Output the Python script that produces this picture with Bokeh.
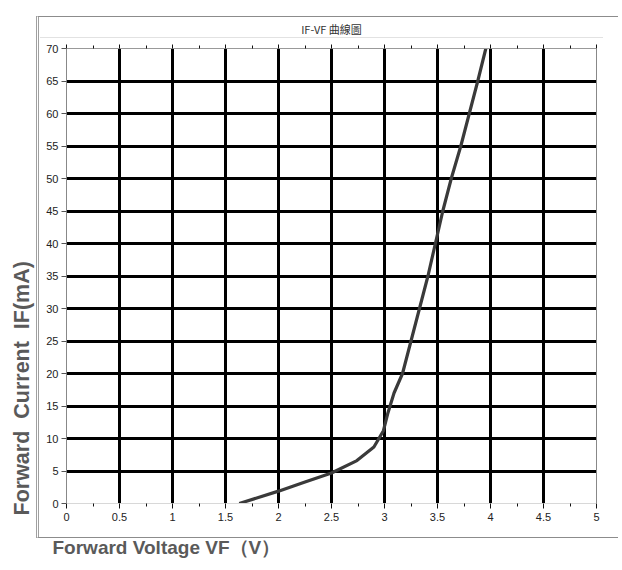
from bokeh.plotting import figure
from bokeh.models import (Range1d, FixedTicker, LinearAxis, Title, InlineStyleSheet)
from bokeh.embed import file_html
from bokeh.resources import INLINE

# ---- data ----
vf = [1.63, 2.0, 2.25, 2.5, 2.74, 2.9, 2.99, 3.03, 3.09, 3.17, 3.25, 3.33,
      3.41, 3.48, 3.55, 3.63, 3.72, 3.80, 3.88, 3.956]
if_ma = [0, 1.9, 3.3, 4.7, 6.6, 8.7, 11.2, 13.8, 17, 20, 25, 30,
         35, 40, 45, 50, 55, 60, 65, 70]

x_ticks = [0, 0.5, 1, 1.5, 2, 2.5, 3, 3.5, 4, 4.5, 5]
x_tick_labels = ["0", "0.5", "1", "1.5", "2", "2.5", "3", "3.5", "4", "4.5", "5"]
y_ticks = [0, 5, 10, 15, 20, 25, 30, 35, 40, 45, 50, 55, 60, 65, 70]
y_tick_labels = [str(v) for v in y_ticks]

title_text = "IF-VF 曲線圖"
x_title = "Forward Voltage VF（V）"
y_title = "Forward\u00a0\u00a0Current\u00a0\u00a0IF(mA)"

x_minor = [(a + b) / 2 for a, b in zip(x_ticks, x_ticks[1:])]

panel_css = InlineStyleSheet(css="""
:host { position: relative; }
:host::after {
  content: ""; position: absolute; left: 36px; top: 16px; right: 0px; height: 520px;
  border-top: 1px solid #8c8c8c; border-bottom: 1px solid #8c8c8c;
  border-left: 3px double #a0a0a0; pointer-events: none;
}
:host::before {
  content: ""; position: absolute; left: 40px; top: 37px; width: 563px; height: 1px;
  background: #e2e2e2; pointer-events: none; z-index: 1;
}
""")

p = figure(width=618, height=569, output_backend="svg", toolbar_location=None,
           x_range=Range1d(x_ticks[0], x_ticks[-1]),
           y_range=Range1d(y_ticks[0], y_ticks[-1]),
           x_axis_location=None, y_axis_location=None,
           min_border_left=66, min_border_right=22,
           min_border_top=48, min_border_bottom=66,
           stylesheets=[panel_css])
p.outline_line_color = None
p.background_fill_color = "white"
p.border_fill_color = "white"

# grids (thick black interior lines)
p.xgrid.ticker = FixedTicker(ticks=x_ticks[1:-1])
p.ygrid.ticker = FixedTicker(ticks=y_ticks[1:-1])
for g in (p.xgrid, p.ygrid):
    g.grid_line_color = "black"
    g.grid_line_width = 3
    g.grid_line_alpha = 1.0

tick_font = "Liberation Sans"

# bottom axis
xb = LinearAxis(ticker=FixedTicker(ticks=x_ticks, minor_ticks=x_minor),
                major_label_overrides={t: l for t, l in zip(x_ticks, x_tick_labels)})
xb.axis_line_color = "#d8d8d8"
xb.major_tick_line_color = "#111111"
xb.minor_tick_line_color = "#111111"
xb.major_tick_out = 5
xb.major_tick_in = 0
xb.minor_tick_out = 3
xb.minor_tick_in = 0
xb.major_label_standoff = 4
xb.major_label_text_font = tick_font
xb.major_label_text_font_size = "11px"
xb.major_label_text_color = "#222222"
p.add_layout(xb, "below")

# top axis (ticks only)
xt = LinearAxis(ticker=FixedTicker(ticks=x_ticks, minor_ticks=x_minor))
xt.axis_line_color = "#999999"
xt.major_tick_line_color = "#111111"
xt.minor_tick_line_color = "#111111"
xt.major_tick_out = 4
xt.major_tick_in = 0
xt.minor_tick_out = 3
xt.minor_tick_in = 0
xt.major_label_text_font_size = "0px"
xt.major_label_text_color = None
p.add_layout(xt, "above")

# left axis
yl = LinearAxis(ticker=FixedTicker(ticks=y_ticks, minor_ticks=[]),
                major_label_overrides={t: l for t, l in zip(y_ticks, y_tick_labels)})
yl.axis_line_color = "#888888"
yl.major_tick_line_color = "#555555"
yl.minor_tick_line_color = None
yl.major_tick_out = 5
yl.major_tick_in = 0
yl.major_label_standoff = 3
yl.major_label_text_font = tick_font
yl.major_label_text_font_size = "11px"
yl.major_label_text_color = "#222222"
p.add_layout(yl, "left")

# right axis (line only)
yr = LinearAxis(ticker=FixedTicker(ticks=[]))
yr.axis_line_color = "#888888"
yr.major_tick_line_color = None
yr.minor_tick_line_color = None
yr.major_label_text_font_size = "0px"
p.add_layout(yr, "right")

# curve
p.line(vf, if_ma, line_color="#3a3a3a", line_width=3.2)

# titles
p.title = Title(text=title_text, align="center", text_font="Noto Sans CJK TC",
                text_font_size="11px", text_font_style="normal",
                text_color="#333333", standoff=15)
p.add_layout(Title(text=x_title, align="left", offset=-14, standoff=22,
                   text_font="Liberation Sans", text_font_style="bold",
                   text_font_size="19px", text_color="#5a5a5a"), "below")
p.add_layout(Title(text=y_title, align="left", offset=-12, standoff=16,
                   vertical_align="top",
                   text_font="Liberation Sans", text_font_style="bold",
                   text_font_size="21.5px", text_color="#5a5a5a"), "left")

open("out.html", "w").write(file_html(p, INLINE))
